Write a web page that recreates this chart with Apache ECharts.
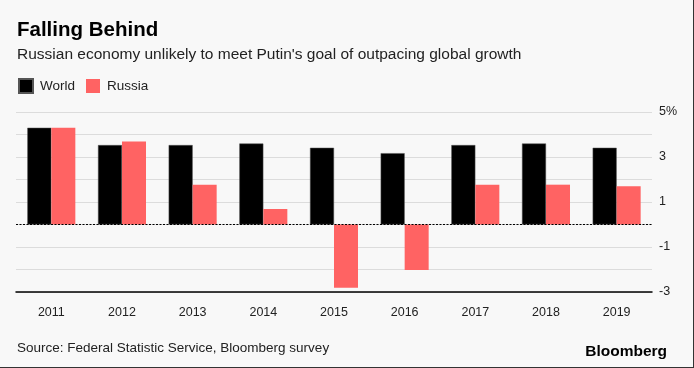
<!DOCTYPE html>
<html><head><meta charset="utf-8">
<script src="https://cdn.jsdelivr.net/npm/echarts@6/dist/echarts.min.js"></script>
<style>
html,body{margin:0;padding:0;background:#f8f8f8;}
#c{width:693px;height:367px;border-right:1px solid #333;border-bottom:1px solid #333;}
</style></head>
<body><div id="c"></div>
<script>
const categories = ['2011','2012','2013','2014','2015','2016','2017','2018','2019'];
const world = [4.3, 3.53, 3.53, 3.6, 3.41, 3.17, 3.53, 3.6, 3.41];
const russia = [4.3, 3.69, 1.77, 0.69, -2.81, -2.02, 1.77, 1.77, 1.7];
const yTicks = [-3, -1, 1, 3, 5];

const chart = echarts.init(document.getElementById('c'), null, {renderer:'canvas'});
const font = 'Liberation Sans, Arial, Helvetica, sans-serif';
chart.setOption({
  backgroundColor: '#f8f8f8',
  animation: false,
  textStyle: {fontFamily: font},
  title: [
    {text: 'Falling Behind', left: 12, top: 15, textStyle: {fontSize: 20.5, fontWeight: 'bold', color: '#000', fontFamily: font}},
    {text: "Russian economy unlikely to meet Putin's goal of outpacing global growth", left: 12, top: 42, textStyle: {fontSize: 15.5, fontWeight: 'normal', color: '#222', fontFamily: font}},
    {text: 'Source: Federal Statistic Service, Bloomberg survey', left: 12, top: 336, textStyle: {fontSize: 13.5, fontWeight: 'normal', color: '#222', fontFamily: font}},
    {text: 'Bloomberg', right: 21, top: 339, textStyle: {fontSize: 15.5, fontWeight: 'bold', color: '#000', fontFamily: font}}
  ],
  legend: {
    left: 13, top: 73, icon: 'rect', itemWidth: 14, itemHeight: 14, itemGap: 11,
    textStyle: {fontSize: 13.5, color: '#222', fontFamily: font, padding: [0,0,0,2]},
    data: ['World', 'Russia']
  },
  grid: {left: 16, right: 41, top: 112, bottom: 75},
  xAxis: {
    type: 'category', data: categories,
    axisLine: {onZero: false, lineStyle: {color: '#000', width: 1.5}},
    axisTick: {alignWithLabel: true, length: 5, lineStyle: {color: '#555'}},
    axisLabel: {color: '#222', fontSize: 12.5, margin: 14}
  },
  yAxis: {
    type: 'value', position: 'right', min: -3, max: 5, interval: 1,
    axisLine: {show: false}, axisTick: {show: false},
    splitLine: {lineStyle: {color: '#dcdcdc', width: 1}},
    axisLabel: {
      color: '#222', fontSize: 12.5, margin: 7,
      formatter: v => yTicks.includes(v) ? (v === 5 ? '5%' : String(v)) : ''
    }
  },
  series: [
    {name: 'World', type: 'bar', data: world, barWidth: 24, barGap: '0%',
     itemStyle: {color: '#000', borderColor: '#555', borderWidth: 0.5},
     markLine: {silent: true, symbol: 'none', label: {show: false},
       lineStyle: {color: '#000', type: [2, 1.5], width: 1.2},
       data: [{yAxis: 0}], z: 10}},
    {name: 'Russia', type: 'bar', data: russia, barWidth: 24,
     itemStyle: {color: '#ff6363'}}
  ]
});
</script></body></html>
